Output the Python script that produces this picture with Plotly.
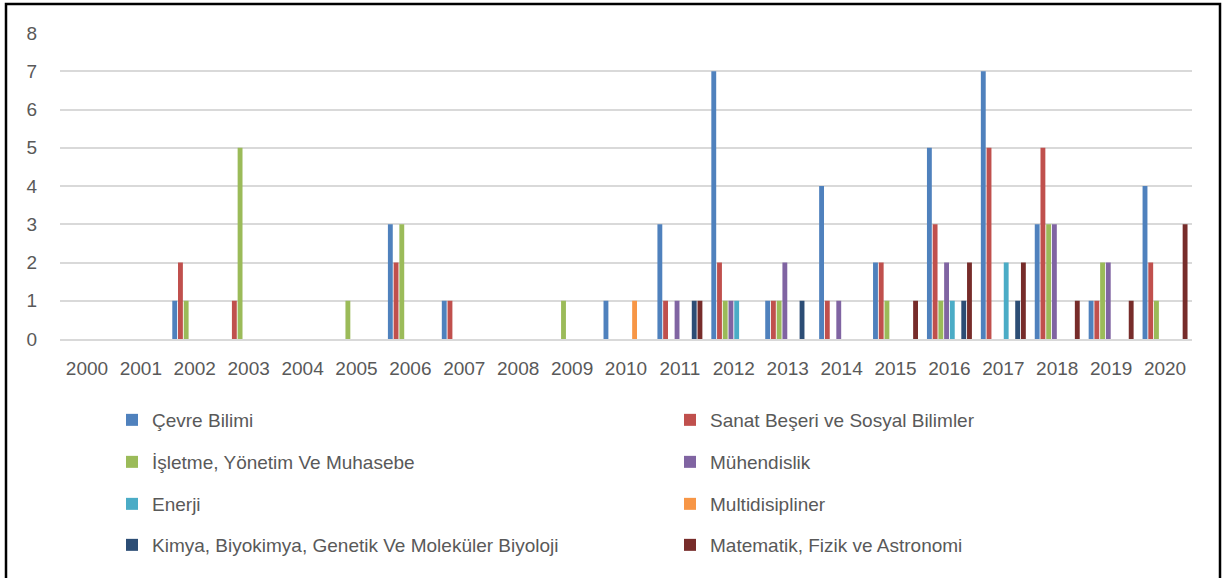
import plotly.graph_objects as go

years = [str(y) for y in range(2000, 2021)]

cevre       = [0,0,1,0,0,0,3,1,0,0,1,3,7,1,4,2,5,7,3,1,4]
sanat       = [0,0,2,1,0,0,2,1,0,0,0,1,2,1,1,2,3,5,5,1,2]
isletme     = [0,0,1,5,0,1,3,0,0,1,0,0,1,1,0,1,1,0,3,2,1]
muhendislik = [0,0,0,0,0,0,0,0,0,0,0,1,1,2,1,0,2,0,3,2,0]
enerji      = [0,0,0,0,0,0,0,0,0,0,0,0,1,0,0,0,1,2,0,0,0]
multi       = [0,0,0,0,0,0,0,0,0,0,1,0,0,0,0,0,0,0,0,0,0]
kimya       = [0,0,0,0,0,0,0,0,0,0,0,1,0,1,0,0,1,1,0,0,0]
matematik   = [0,0,0,0,0,0,0,0,0,0,0,1,0,0,0,1,2,2,1,1,3]

series_names = [
    "Çevre Bilimi",
    "Sanat Beşeri ve Sosyal Bilimler",
    "İşletme, Yönetim Ve Muhasebe",
    "Mühendislik",
    "Enerji",
    "Multidisipliner",
    "Kimya, Biyokimya, Genetik Ve Moleküler Biyoloji",
    "Matematik, Fizik ve Astronomi",
]
series_values = [cevre, sanat, isletme, muhendislik, enerji, multi, kimya, matematik]
colors = ["#4F81BD", "#C0504D", "#9BBB59", "#8064A2", "#4BACC6", "#F79646", "#2C4D75", "#772C2A"]

FONT = "Liberation Sans"
TXT = "#595959"

# plot area in pixels
L, R, T, B = 60, 1192, 33, 339
W, H = R - L, B - T

def px2x(px):
    return (px - L) / W

def py2y(py):
    return (B - py) / H

fig = go.Figure()
legend_layout = {}
row_y = [420, 462, 504, 545]
for i, (name, vals, col) in enumerate(zip(series_names, series_values, colors)):
    lname = "legend" if i == 0 else f"legend{i+1}"
    fig.add_trace(go.Bar(x=years, y=vals, name=name, marker=dict(color=col, line=dict(width=0)),
                         legend=lname))
    row = i // 2
    colx = 112 if i % 2 == 0 else 670
    legend_layout[lname] = dict(
        x=px2x(colx), y=py2y(row_y[row]), xanchor="left", yanchor="middle",
        bgcolor="rgba(0,0,0,0)", borderwidth=0,
        font=dict(family=FONT, size=19, color=TXT),
        itemwidth=30,
    )

fig.update_layout(
    width=1226, height=578,
    margin=dict(l=L, r=1226 - R, t=T, b=578 - B),
    paper_bgcolor="white", plot_bgcolor="white",
    barmode="group", bargap=0.15, bargroupgap=0.15,
    font=dict(family=FONT, size=19, color=TXT),
    showlegend=True,
    xaxis=dict(type="category", showgrid=False, showline=True, linecolor="#D9D9D9", linewidth=1.5,
               ticks="", tickfont=dict(family=FONT, size=19, color=TXT), ticklabelstandoff=11),
    yaxis=dict(range=[0, 8], dtick=1, showgrid=True, gridcolor="#D9D9D9", gridwidth=1.5,
               zeroline=False, showline=False, ticks="",
               tickfont=dict(family=FONT, size=19, color=TXT), ticklabelstandoff=22),
    shapes=[dict(type="rect", xref="paper", yref="paper",
                 x0=px2x(6), x1=px2x(1220), y0=py2y(582), y1=py2y(4),
                 line=dict(color="black", width=2.5), fillcolor="rgba(0,0,0,0)", layer="below")],
    **legend_layout,
)

fig.write_html("out.html", config={"displayModeBar": False},
               post_script="document.body.style.margin='0px';document.body.style.overflow='hidden';")
